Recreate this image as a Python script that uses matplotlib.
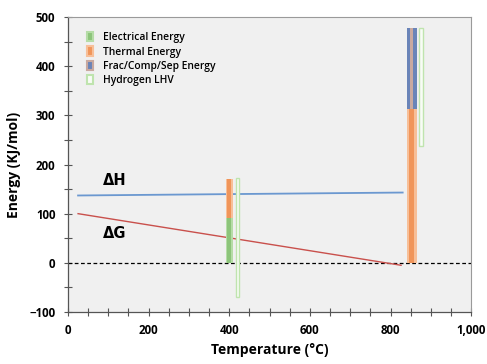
import matplotlib
matplotlib.use("Agg")
import matplotlib.pyplot as plt
from matplotlib.patches import Patch

plt.rcParams['font.family'] = ['Open Sans', 'DejaVu Sans']

# Data
dh_T = [25, 830]
dh_E = [137, 143]
dg_T = [25, 826]
dg_E = [100, -5]

bar_T_400 = 400
elec_400 = 92
therm_400 = 78          # stacked on electrical
lhv_T_400 = 421
lhv_400 = [-70, 172]   # bottom, top

bar_T_850 = 852
therm_850 = 313
frac_850 = 165          # stacked on thermal
lhv_T_850 = 876
lhv_850 = [237, 478]

x_ticks = [0, 200, 400, 600, 800, 1000]
x_labels = ['0', '200', '400', '600', '800', '1,000']
y_ticks = [-100, 0, 100, 200, 300, 400, 500]

c_green = '#8cc47a'
c_green_l = '#b5dca6'
c_orange = '#f0955a'
c_orange_l = '#f7bf98'
c_blue = '#6a84b8'
c_blue_l = '#c9a9a0'
c_lhv = '#bfe4ae'

fig = plt.figure(figsize=(4.87, 3.64), dpi=100)
ax = fig.add_axes([0.1396, 0.143, 0.828, 0.81])
ax.set_facecolor('#f0f0f0')
fig.patch.set_facecolor('white')

# lines
ax.plot(dh_T, dh_E, color='#6b98d0', lw=1.3, zorder=3)
ax.plot(dg_T, dg_E, color='#c9504c', lw=1.0, zorder=3)
ax.axhline(0, color='black', lw=0.9, ls=(0, (3, 2)), zorder=2)

# stacked bars at 400
w1 = 18
ax.bar(bar_T_400, elec_400, width=w1, bottom=0, color=c_green_l, zorder=4)
ax.bar(bar_T_400, elec_400, width=w1 * 0.5, bottom=0, color=c_green, zorder=5)
ax.bar(bar_T_400, therm_400, width=w1, bottom=elec_400, color=c_orange_l, zorder=4)
ax.bar(bar_T_400, therm_400, width=w1 * 0.5, bottom=elec_400, color=c_orange, zorder=5)
ax.bar(lhv_T_400, lhv_400[1] - lhv_400[0], width=8, bottom=lhv_400[0],
       color='#f8fcf6', edgecolor=c_lhv, linewidth=1.0, zorder=4)

# stacked bars at 850
w2 = 25
ax.bar(bar_T_850, therm_850, width=w2, bottom=0, color=c_orange_l, zorder=4)
ax.bar(bar_T_850, therm_850, width=w2 * 0.45, bottom=0, color=c_orange, zorder=5)
ax.bar(bar_T_850, frac_850, width=w2, bottom=therm_850, color=c_blue, zorder=4)
ax.bar(bar_T_850, frac_850, width=w2 * 0.35, bottom=therm_850, color=c_blue_l, zorder=5)
ax.bar(lhv_T_850, lhv_850[1] - lhv_850[0], width=9, bottom=lhv_850[0],
       color='#f8fcf6', edgecolor=c_lhv, linewidth=1.0, zorder=4)

# labels dH, dG
ax.text(86, 167, 'ΔH', fontsize=10.5, fontweight='bold', ha='left', va='center', family=['DejaVu Sans'])
ax.text(86, 60, 'ΔG', fontsize=10.5, fontweight='bold', ha='left', va='center', family=['DejaVu Sans'])

ax.set_xlim(0, 1000)
ax.set_ylim(-100, 500)
ax.set_xticks(x_ticks)
ax.set_xticklabels(x_labels)
ax.set_yticks(y_ticks)
ax.set_xticks(range(0, 1001, 50), minor=True)
ax.set_yticks(range(-100, 501, 50), minor=True)
ax.tick_params(axis='both', which='both', direction='inout', length=6, width=0.8, color='#555555')
ax.tick_params(axis='both', which='major', labelsize=8.3, pad=6)
for lab in ax.get_xticklabels() + ax.get_yticklabels():
    lab.set_fontweight('bold')

for s in ['left', 'bottom']:
    ax.spines[s].set_color('#555555')
    ax.spines[s].set_linewidth(0.9)
for s in ['top', 'right']:
    ax.spines[s].set_color('#9a9a9a')
    ax.spines[s].set_linewidth(0.8)

ax.set_xlabel('Temperature (°C)', fontsize=10, fontweight='bold', labelpad=4)
ax.set_ylabel('Energy (KJ/mol)', fontsize=10, fontweight='bold', labelpad=6)

handles = [Patch(facecolor=c_green, edgecolor=c_green_l, lw=1.5),
           Patch(facecolor=c_orange, edgecolor=c_orange_l, lw=1.5),
           Patch(facecolor=c_blue, edgecolor=c_blue_l, lw=1.5),
           Patch(facecolor='#f8fcf6', edgecolor=c_lhv, lw=1.5)]
leg = ax.legend(handles, ['Electrical Energy', 'Thermal Energy', 'Frac/Comp/Sep Energy', 'Hydrogen LHV'],
                loc='upper left', bbox_to_anchor=(0.025, 0.98), frameon=False,
                fontsize=7.4, handlelength=0.6, handleheight=1.0, handletextpad=0.9,
                labelspacing=0.3)
for t in leg.get_texts():
    t.set_fontweight('semibold')

fig.savefig('out.png', dpi=100)
